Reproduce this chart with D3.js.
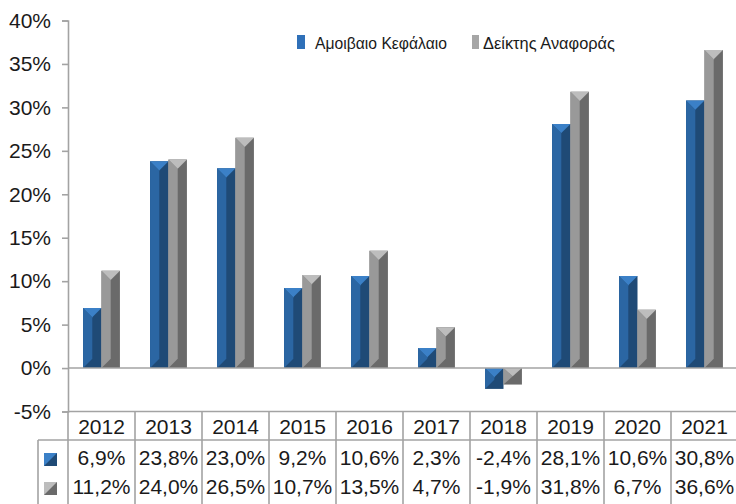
<!DOCTYPE html>
<html>
<head>
<meta charset="utf-8">
<script src="https://cdn.jsdelivr.net/npm/d3@7"></script>
<style>
  body { margin: 0; background: #fff; }
  svg { display: block; font-family: Arial, "Liberation Sans", sans-serif; }
</style>
</head>
<body>
<script>
const years = ['2012', '2013', '2014', '2015', '2016', '2017', '2018', '2019', '2020', '2021'];
const fundValues = [6.9, 23.8, 23.0, 9.2, 10.6, 2.3, -2.4, 28.1, 10.6, 30.8];
const indexValues = [11.2, 24.0, 26.5, 10.7, 13.5, 4.7, -1.9, 31.8, 6.7, 36.6];
const seriesNames = ['Αμοιβαιο Κεφάλαιο', 'Δείκτης Αναφοράς'];
const yTicks = [-5, 0, 5, 10, 15, 20, 25, 30, 35, 40];

window.onload = function () {

  const DM = {
    width: 736,
    height: 504,
    left: 68,
    right: 738,
    top: 20.5,
    bottom: 411.5,
    tableRow1: 440,
    tableKeyLeft: 38
  };

  const COLORS = [
    { cap: '#3b80c7', face: '#2b66a3', side: '#1f4a76' },
    { cap: '#bdbdbd', face: '#999999', side: '#6a6a6a' }
  ];
  const LINE = '#a3a3a3';

  const locale = d3.formatLocale({ decimal: ',', thousands: '.', grouping: [3], currency: ['', '€'], minus: '-' });
  const fmtPct = v => locale.format('.1f')(v) + '%';
  const fmtTick = v => locale.format('.0f')(v) + '%';

  const SVG = d3.select('body')
                .append('svg')
                .attr('width', DM.width)
                .attr('height', DM.height);

  const xScale = d3.scaleBand()
                   .domain(years)
                   .range([DM.left, DM.right])
                   .paddingInner(0.45)
                   .paddingOuter(0.225);
  const xSeries = d3.scaleBand()
                    .domain([0, 1])
                    .range([0, xScale.bandwidth()]);
  const yScale = d3.scaleLinear()
                   .domain([-5, 40])
                   .range([DM.bottom, DM.top]);

  // y axis
  const yAxis = d3.axisLeft(yScale)
                  .tickValues(yTicks)
                  .tickSize(6)
                  .tickFormat(fmtTick);
  const gy = SVG.append('g')
                .attr('transform', `translate(${DM.left},0)`)
                .call(yAxis);
  gy.select('.domain').attr('stroke', LINE).attr('stroke-width', 1.6);
  gy.selectAll('.tick line').attr('stroke', LINE).attr('stroke-width', 1.6);
  gy.selectAll('.tick text')
    .attr('x', -17)
    .attr('font-size', 21)
    .attr('fill', '#1a1a1a')
    .attr('font-family', 'Arial, "Liberation Sans", sans-serif');

  // bevelled bars
  function barParts(x0, w, v) {
    const yA = yScale(Math.max(v, 0));
    const yB = yScale(Math.min(v, 0));
    const m = x0 + w / 2;
    const d = Math.min(w / 2, (yB - yA) / 2);
    return {
      side: `M${x0},${yA}H${x0 + w}V${yB}H${x0}Z`,
      face: `M${x0},${yA}L${m},${yA + d}L${m},${yB - d}L${x0},${yB}Z`,
      cap: `M${x0},${yA}H${x0 + w}L${m},${yA + d}Z`
    };
  }

  [fundValues, indexValues].forEach(function (values, s) {
    const g = SVG.append('g');
    const bars = g.selectAll('g')
                  .data(values)
                  .enter()
                  .append('g');
    ['side', 'face', 'cap'].forEach(function (part) {
      bars.append('path')
          .attr('d', (v, i) => barParts(xScale(years[i]) + xSeries(s), xSeries.bandwidth(), v)[part])
          .attr('fill', COLORS[s][part]);
    });
  });

  // zero line
  SVG.append('line')
     .attr('x1', DM.left).attr('x2', DM.right)
     .attr('y1', yScale(0)).attr('y2', yScale(0))
     .attr('stroke', LINE).attr('stroke-width', 1.6);

  // legend
  const legend = SVG.append('g');
  const legendPos = [
    { mx: 297, mw: 8, tx: 315, tw: 132 },
    { mx: 472, mw: 7, tx: 483, tw: 132 }
  ];
  seriesNames.forEach(function (name, s) {
    const p = legendPos[s];
    legend.append('rect')
          .attr('x', p.mx).attr('y', 35)
          .attr('width', p.mw).attr('height', 14)
          .attr('fill', s === 0 ? '#2f70b8' : '#a6a6a6');
    legend.append('text')
          .attr('x', p.tx).attr('y', 49)
          .attr('font-size', 17)
          .attr('fill', '#1a1a1a')
          .attr('textLength', p.tw)
          .attr('lengthAdjust', 'spacingAndGlyphs')
          .text(name);
  });

  // data table
  const table = SVG.append('g');
  const tableBottom = DM.height + 5;
  table.append('line')
       .attr('x1', DM.left).attr('x2', DM.right)
       .attr('y1', DM.bottom).attr('y2', DM.bottom)
       .attr('stroke', LINE).attr('stroke-width', 1.6);
  table.append('line')
       .attr('x1', DM.tableKeyLeft).attr('x2', DM.right)
       .attr('y1', DM.tableRow1).attr('y2', DM.tableRow1)
       .attr('stroke', LINE).attr('stroke-width', 1.6);
  table.append('line')
       .attr('x1', DM.tableKeyLeft).attr('x2', DM.tableKeyLeft)
       .attr('y1', DM.tableRow1).attr('y2', tableBottom)
       .attr('stroke', LINE).attr('stroke-width', 1.6);

  const step = xScale.step();
  const cellEdges = years.map(y => xScale(y) - step * xScale.paddingOuter()).concat([DM.right]);
  table.selectAll('.vline')
       .data(cellEdges)
       .enter()
       .append('line')
       .attr('x1', d => d).attr('x2', d => d)
       .attr('y1', DM.bottom).attr('y2', tableBottom)
       .attr('stroke', LINE).attr('stroke-width', 1.6);

  const cx = y => xScale(y) + xScale.bandwidth() / 2;

  table.selectAll('.year')
       .data(years)
       .enter()
       .append('text')
       .attr('x', d => cx(d))
       .attr('y', 434)
       .attr('text-anchor', 'middle')
       .attr('font-size', 21)
       .attr('fill', '#1a1a1a')
       .text(d => d);

  const rowBase = [465, 494];
  [fundValues, indexValues].forEach(function (values, s) {
    table.selectAll('.row' + s)
         .data(values)
         .enter()
         .append('text')
         .attr('x', (v, i) => cx(years[i]))
         .attr('y', rowBase[s])
         .attr('text-anchor', 'middle')
         .attr('font-size', 21)
         .attr('fill', '#1a1a1a')
         .text(v => fmtPct(v));

    // key square with a diagonal bevel
    const kx = 44, ky = rowBase[s] - 12, ks = 13;
    table.append('rect')
         .attr('x', kx).attr('y', ky)
         .attr('width', ks).attr('height', ks)
         .attr('fill', COLORS[s].side);
    table.append('path')
         .attr('d', `M${kx},${ky}H${kx + ks}L${kx},${ky + ks}Z`)
         .attr('fill', COLORS[s].cap);
  });
}
</script>
</body>
</html>
